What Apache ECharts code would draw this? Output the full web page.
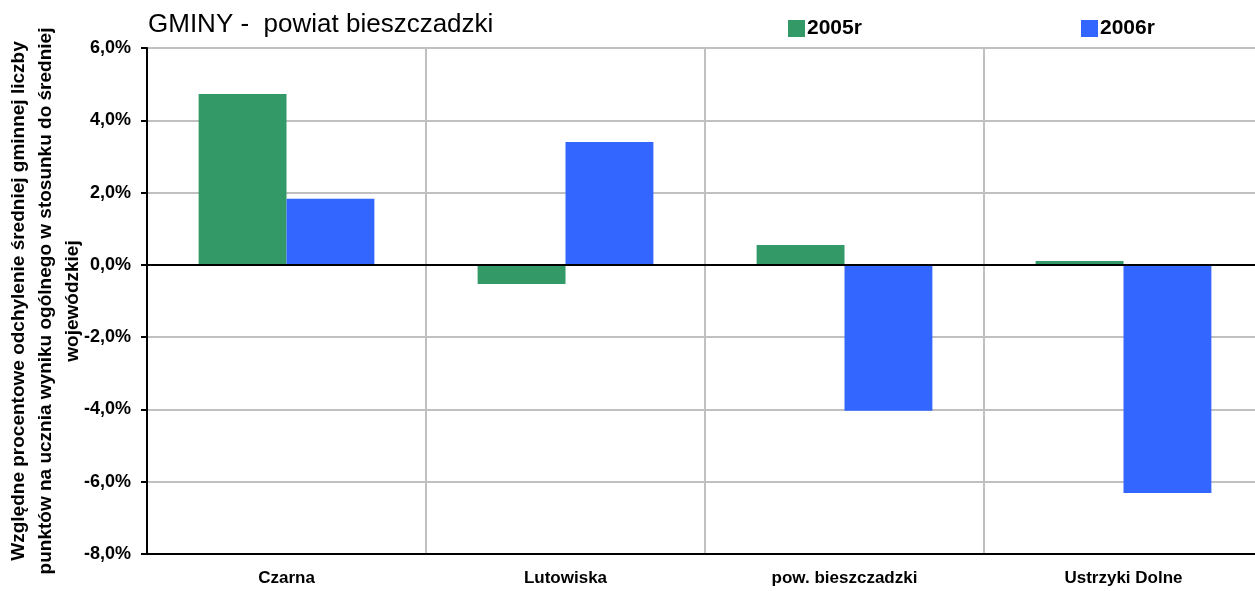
<!DOCTYPE html>
<html>
<head>
<meta charset="utf-8">
<script src="https://cdn.jsdelivr.net/npm/echarts@6/dist/echarts.min.js"></script>
<style>
  html, body { margin: 0; padding: 0; background: #fff; }
  #chart { width: 1255px; height: 591px; }
</style>
</head>
<body>
<div id="chart"></div>
<script>
// gminy powiatu bieszczadzkiego
var categories = ['Czarna', 'Lutowiska', 'pow. bieszczadzki', 'Ustrzyki Dolne'];
var values2005 = [4.73, -0.53, 0.55, 0.11]; // %
var values2006 = [1.83, 3.40, -4.04, -6.31]; // %

var fontFam = 'Arial, "Liberation Sans", sans-serif';

var chart = echarts.init(document.getElementById('chart'));
var option = {
  animation: false,
  textStyle: { fontFamily: fontFam },
  title: {
    text: 'GMINY -  powiat bieszczadzki',
    left: 148,
    top: 12,
    padding: 0,
    textStyle: { fontSize: 26, fontWeight: 'normal', color: '#000', fontFamily: fontFam }
  },
  legend: [
    {
      data: ['2005r'],
      left: 788,
      top: 18,
      padding: 0,
      icon: 'rect',
      itemWidth: 17,
      itemHeight: 17,
      textStyle: { fontSize: 21, fontWeight: 'bold', color: '#000', padding: [0, 0, 0, -3] }
    },
    {
      data: ['2006r'],
      left: 1081,
      top: 18,
      padding: 0,
      icon: 'rect',
      itemWidth: 17,
      itemHeight: 17,
      textStyle: { fontSize: 21, fontWeight: 'bold', color: '#000', padding: [0, 0, 0, -3] }
    }
  ],
  grid: {
    left: 147,
    right: -8,
    top: 48,
    bottom: 37,
    containLabel: false,
    outerBoundsMode: 'none',
    show: true,
    borderColor: '#000',
    borderWidth: 2
  },
  xAxis: {
    type: 'category',
    data: categories,
    axisLine: { show: true, onZero: false, lineStyle: { color: '#000', width: 2 } },
    axisTick: { show: false },
    axisLabel: { fontSize: 17, fontWeight: 'bold', color: '#000', margin: 16 },
    splitLine: { show: true, lineStyle: { color: '#c0c0c0', width: 2 } }
  },
  yAxis: {
    type: 'value',
    min: -8,
    max: 6,
    interval: 2,
    name: 'Względne procentowe odchylenie średniej gminnej liczby\npunktów na ucznia wyniku ogólnego w stosunku do średniej\nwojewódzkiej',
    nameLocation: 'middle',
    nameGap: 61,
    nameMoveOverlap: false,
    nameTextStyle: { fontSize: 19, fontWeight: 'bold', color: '#000', lineHeight: 27, align: 'center' },
    axisLine: { show: true, lineStyle: { color: '#000', width: 2 } },
    axisTick: { show: true, length: 6, lineStyle: { color: '#000', width: 2 } },
    axisLabel: {
      fontSize: 18, fontWeight: 'bold', color: '#000', margin: 16,
      formatter: function (v) { return v.toFixed(1).replace('.', ',') + '%'; }
    },
    splitLine: { show: true, lineStyle: { color: '#c0c0c0', width: 2 } }
  },
  series: [
    {
      name: '2005r',
      type: 'bar',
      data: values2005,
      itemStyle: { color: '#339966' },
      barGap: '0%',
      barCategoryGap: '37%',
      markLine: {
        silent: true,
        symbol: 'none',
        label: { show: false },
        lineStyle: { color: '#000', width: 2, type: 'solid' },
        data: [{ yAxis: 0 }]
      }
    },
    {
      name: '2006r',
      type: 'bar',
      data: values2006,
      itemStyle: { color: '#3366ff' },
      barGap: '0%',
      barCategoryGap: '37%'
    }
  ]
};
chart.setOption(option);
</script>
</body>
</html>
